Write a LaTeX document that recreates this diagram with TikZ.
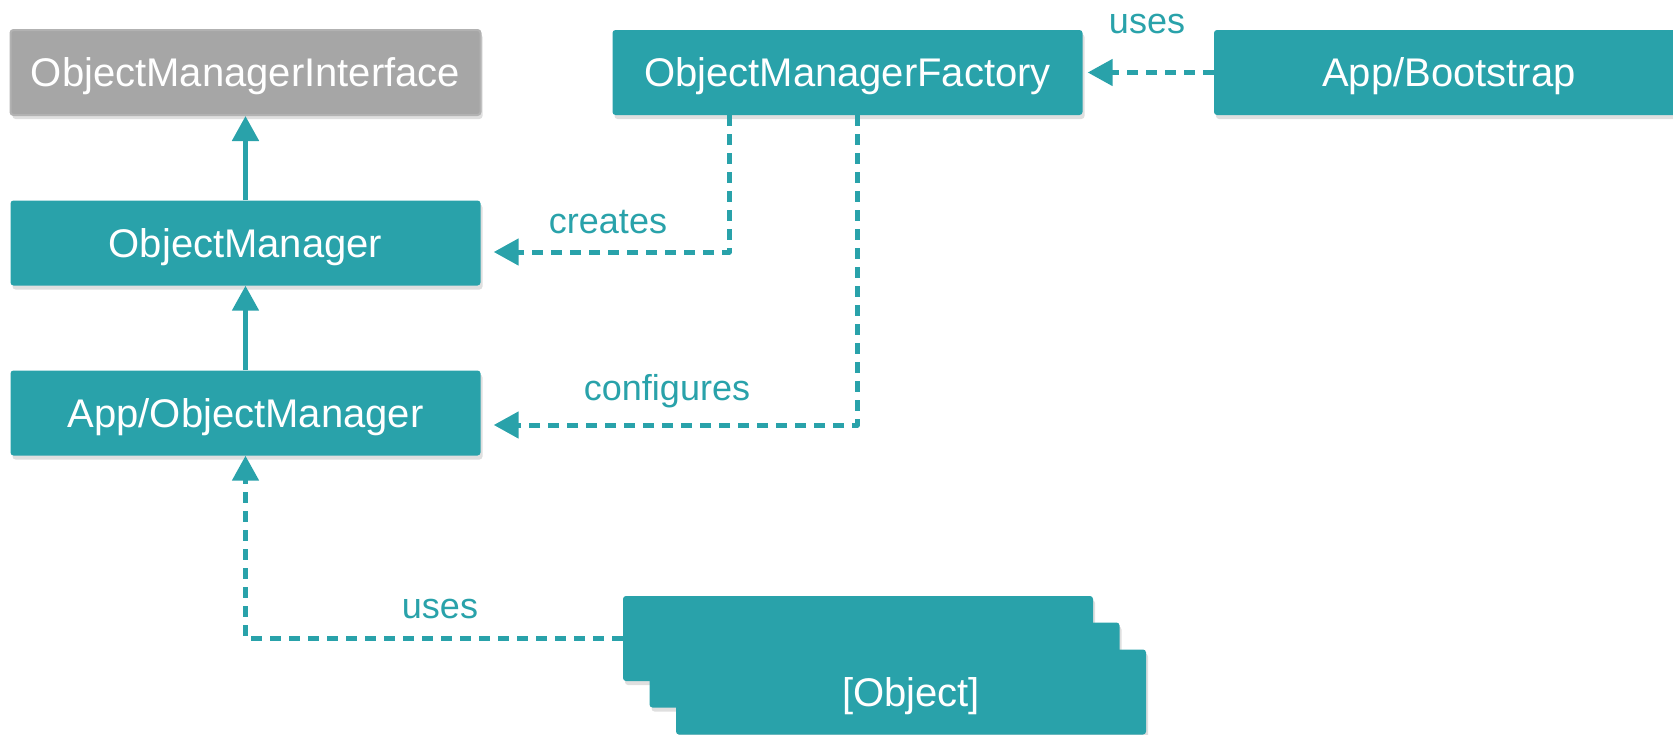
\documentclass[tikz,border=0pt]{standalone}
\usepackage{fontspec}
\setmainfont{Liberation Sans}
\usetikzlibrary{arrows.meta,shadows}
\definecolor{teal}{RGB}{41,162,170}
\definecolor{ifgray}{RGB}{166,166,166}
\definecolor{ifedge}{RGB}{178,178,178}

\begin{document}
\begin{tikzpicture}[x=1pt,y=-1pt,line join=round,
  box/.style={fill=teal,text=white,minimum width=470pt,minimum height=85pt,
    rounded corners=3pt,font=\fontsize{40}{48}\selectfont,text height=28.6pt,text depth=0pt,
    drop shadow={opacity=.25,shadow xshift=2pt,shadow yshift=-4pt}},
  ifbox/.style={box,fill=ifgray,draw=ifedge,line width=2pt},
  lbl/.style={text=teal,anchor=base,font=\fontsize{36}{43}\selectfont},
  solidarrow/.style={teal,line width=5pt,-{Triangle[length=25pt,width=26pt]}},
  dasharrow/.style={teal,line width=5pt,dash pattern=on 11pt off 8pt,-{Triangle[length=25pt,width=26pt]}}]
  \useasboundingbox (0,0) rectangle (1673,734);
  % left column
  \node[ifbox] (iface) at (245.5,72.5) {ObjectManagerInterface};
  \node[box] (om) at (245.5,243) {ObjectManager};
  \node[box] (appom) at (245.5,413) {App/ObjectManager};
  % top row
  \node[box] (factory) at (847.5,72.5) {ObjectManagerFactory};
  \node[box] (bootstrap) at (1449,72.5) {App/Bootstrap};
  % object stack
  \foreach \i/\x/\y in {1/858/638.5,2/884.5/665} \node[box] (obj\i) at (\x,\y) {};
  \node[box] (obj3) at (911,692) {[Object]};
  % connectors
  \draw[solidarrow] (om.north) -- (iface.south);
  \draw[solidarrow] (appom.north) -- (om.south);
  \draw[dasharrow] ([xshift=117pt]factory.south west) |- ([xshift=13pt,yshift=-9pt]om.east);
  \draw[dasharrow] ([xshift=245pt]factory.south west) |- ([xshift=13pt,yshift=-12pt]appom.east);
  \draw[dasharrow] (bootstrap.west) -- ([xshift=5pt]factory.east);
  \draw[dasharrow] (obj1.west) -| (appom.south);
  % labels
  \node[lbl] (lcreates) at (608,233) {creates};
  \node[lbl] (lconfig) at (667,400) {configures};
  \node[lbl] (lusesobj) at (440,618) {uses};
  \node[lbl] (lusesboot) at (1147,33) {uses};
\end{tikzpicture}
\end{document}
